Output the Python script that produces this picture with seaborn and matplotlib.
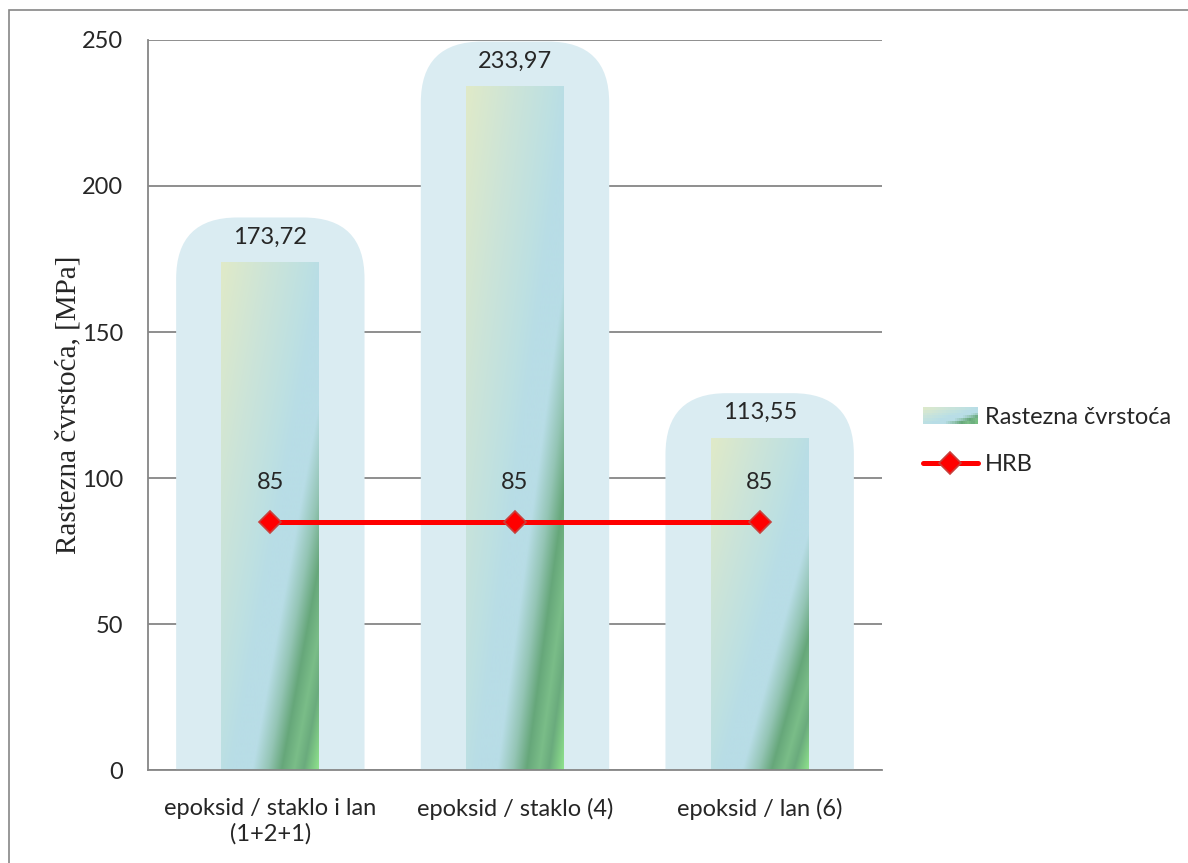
import numpy as np
import pandas as pd
import seaborn as sns
import matplotlib.pyplot as plt
from matplotlib.patches import FancyBboxPatch, Rectangle
from matplotlib.lines import Line2D
from matplotlib.legend_handler import HandlerBase

# data
categories = ["epoksid / staklo i lan\n(1+2+1)", "epoksid / staklo (4)", "epoksid / lan (6)"]
strength = [173.72, 233.97, 113.55]
hrb = [85, 85, 85]
strength_labels = ["173,72", "233,97", "113,55"]
hrb_labels = ["85", "85", "85"]
y_ticks = [0, 50, 100, 150, 200, 250]

df = pd.DataFrame({"kategorija": categories, "cvrstoca": strength, "hrb": hrb})

sns.set_style("white")
plt.rcParams['font.family'] = ['Lato', 'DejaVu Sans']

# gradient stops for the bar fill, t = u + 0.95 * v in bar-relative coords
stop_t = [0.0, 0.5, 0.9, 1.05, 1.27, 1.43, 1.57, 1.7, 1.8, 1.95]
stop_hex = ["#e0eac8", "#cce4d8", "#bde0e2", "#b8dde6", "#b8dde6",
            "#94c5b5", "#66a77a", "#7abd88", "#6aab7d", "#8fe28c"]
stop_c = np.array([[int(h[i:i + 2], 16) / 255 for i in (1, 3, 5)] for h in stop_hex])
SLOPE = 0.95


def grad_color(t):
    return np.stack([np.interp(t, stop_t, stop_c[:, k]) for k in range(3)], axis=-1)


def gradient_img(nx, ny):
    u = np.linspace(0, 1, nx)
    v = np.linspace(0, 1, ny)
    U, V = np.meshgrid(u, v)
    return grad_color(U + SLOPE * V)


fig, ax = plt.subplots(figsize=(11.88, 8.63), dpi=100)
fig.subplots_adjust(left=148 / 1188, right=882 / 1188, bottom=1 - 770 / 863, top=1 - 40 / 863)

sns.barplot(data=df, x="kategorija", y="cvrstoca", width=0.4, color="#c4e0df", ax=ax, zorder=2)

px_per_x = (882 - 148) / 3.0
px_per_y = (770 - 40) / 250.0

for p, h in zip(ax.patches, strength):
    x0 = p.get_x()
    w = p.get_width()
    xc = x0 + w / 2
    # soft glow behind bar
    glow = FancyBboxPatch((xc - 0.385, -25), 0.77, h + 15.5 + 25,
                          boxstyle="round,pad=0,rounding_size=0.25",
                          mutation_aspect=px_per_x / px_per_y,
                          facecolor="#daecf2", edgecolor="none", zorder=1)
    ax.add_patch(glow)
    img = gradient_img(100, int(h * px_per_y))
    ax.imshow(img, extent=(x0, x0 + w, 0, h), aspect="auto", origin="upper",
              interpolation="bilinear", zorder=2)
    p.set_visible(False)

sns.pointplot(x=categories, y=hrb, color="#ff0000", markers="D", linestyles="-",
              markersize=11, markeredgecolor="#c8403c", markeredgewidth=1.2,
              linewidth=3.6, errorbar=None, ax=ax, zorder=5)

for i, (h, lab) in enumerate(zip(strength, strength_labels)):
    ax.text(i, h + 8.8, lab, ha="center", va="center", fontsize=17, zorder=6)
for i, (v, lab) in enumerate(zip(hrb, hrb_labels)):
    ax.text(i, v + 13.4, lab, ha="center", va="center", fontsize=17, zorder=6)

ax.set_xlim(-0.5, 2.5)
ax.set_ylim(0, 250)
ax.set_yticks(y_ticks)
ax.yaxis.grid(True, color="#868686", linewidth=1.3)
ax.set_axisbelow(True)

ax.set_xticks([-0.5, 0.5, 1.5, 2.5])
ax.set_xticklabels([])
ax.set_xticks([0, 1, 2], minor=True)
ax.set_xticklabels(categories, minor=True, fontsize=17, linespacing=1.25)
ax.tick_params(axis="x", which="major", direction="out", length=6, width=1.3, color="#868686")
ax.tick_params(axis="x", which="minor", length=0, pad=20)
ax.tick_params(axis="y", direction="out", length=5, width=1.3, color="#868686", pad=13, labelsize=17)
ax.set_xlabel("")
ax.set_ylabel("Rastezna čvrstoća, [MPa]", fontsize=21, family="Liberation Serif", labelpad=0)

for side in ["top", "right"]:
    ax.spines[side].set_visible(False)
for side in ["left", "bottom"]:
    ax.spines[side].set_color("#868686")
    ax.spines[side].set_linewidth(1.3)
ax.spines["bottom"].set_zorder(7)


class GradientHandler(HandlerBase):
    def create_artists(self, legend, orig_handle, xdescent, ydescent, width, height, fontsize, trans):
        arts = []
        nx, ny = 26, 6
        for j in range(nx):
            for r in range(ny):
                col = grad_color((j + 0.5) / nx + SLOPE * (r + 0.5) / ny)
                rect = Rectangle((-xdescent + width * j / nx, -ydescent + height * (ny - 1 - r) / ny),
                                 width / nx + 0.3, height / ny + 0.3, facecolor=col,
                                 edgecolor="none", transform=trans)
                arts.append(rect)
        return arts


bar_handle = Rectangle((0, 0), 1, 1)
line_handle = Line2D([], [], color="#ff0000", linewidth=3.6, marker="D", markersize=11,
                     markeredgecolor="#c8403c", markeredgewidth=1.2, solid_capstyle="round")
fig.legend([bar_handle, line_handle], ["Rastezna čvrstoća", "HRB"],
           handler_map={Rectangle: GradientHandler()},
           loc="center left", bbox_to_anchor=(902 / 1188, 1 - 441 / 863),
           frameon=False, fontsize=17, handlelength=2.3, handletextpad=0.3, labelspacing=1.1)

fig.patches.append(Rectangle((9 / 1188, -0.01), 1.02, 1.01 - 10 / 863, transform=fig.transFigure,
                             fill=False, edgecolor="#868686", linewidth=1.2, figure=fig))

fig.savefig("out.png", dpi=100)
